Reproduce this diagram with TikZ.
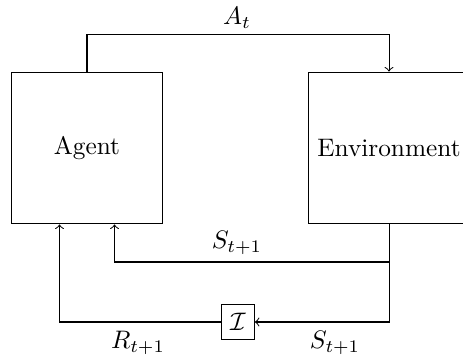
\documentclass[tikz,border=0pt]{standalone}
\usetikzlibrary{calc}
\begin{document}
\begin{tikzpicture}[x=0.395pt,y=-0.395pt,
  blk/.style={draw,minimum size=6em},
  ibox/.style={draw},
  lbl/.style={inner sep=0pt},
  conn/.style={->}]
\useasboundingbox (0,0) rectangle (463,358);
\node[blk] (agent) at (87,148) {Agent};
\node[blk] (env) at (389,148) {Environment};
\node[ibox] (I) at (238,322) {$\mathcal{I}$};
\coordinate (atl) at (87,34.3);
\coordinate (atr) at (389,34.3);
\coordinate (s1) at (389,262);
\coordinate (s1l) at (114.5,262);
\coordinate (s2) at (389,322);
\coordinate (r1) at (59.5,322);
\draw[conn] (agent.north) -- (atl) -- (atr) -- (atr |- env.north);
\draw[conn] (env.south) -- (s1) -- (s1l) -- (s1l |- agent.south);
\draw[conn] (s1) -- (s2) -- (I.east);
\draw[conn] (I.west) -- (r1) -- (r1 |- agent.south);
\node[lbl] (la) at (237,18) {$A_t$};
\node[lbl] (ls1) at (237,243) {$S_{t+1}$};
\node[lbl] (lr) at (138,343) {$R_{t+1}$};
\node[lbl] (ls2) at (335,343) {$S_{t+1}$};
\end{tikzpicture}
\end{document}
